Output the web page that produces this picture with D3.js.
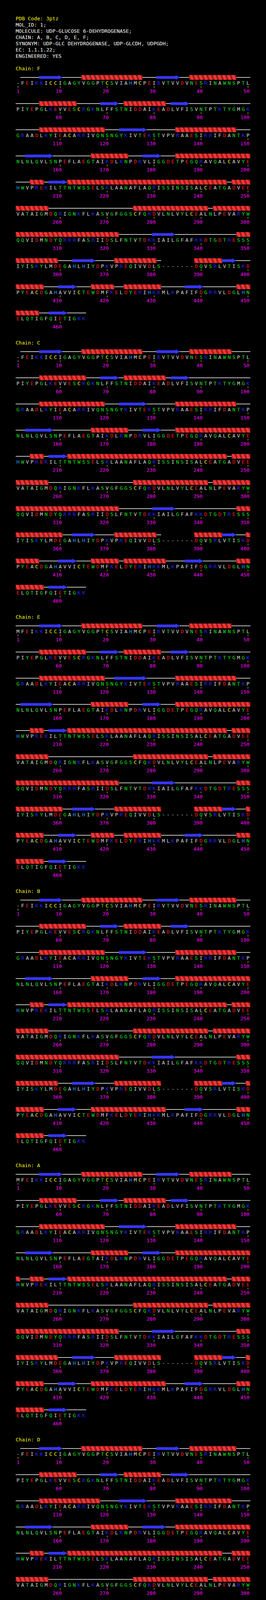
<!DOCTYPE html>
<html>
<head>
<meta charset="utf-8">
<script src="https://cdn.jsdelivr.net/npm/d3@7"></script>
<style>
  body { margin: 0; background: #000; }
  svg { display: block; }
  text { font-family: "DejaVu Sans Mono", monospace; font-size: 13px; }
</style>
</head>
<body>
<script>
let width = 680;
let height = 4388;

// ---- data ----
let pdbCode = "3ptz";
let headerLines = [
  "MOL_ID: 1;",
  "MOLECULE: UDP-GLUCOSE 6-DEHYDROGENASE;",
  "CHAIN: A, B, C, D, E, F;",
  "SYNONYM: UDP-GLC DEHYDROGENASE, UDP-GLCDH, UDPGDH;",
  "EC: 1.1.1.22;",
  "ENGINEERED: YES"
];

let sequenceRows = [
  "MFEIKKICCIGAGYVGGPTCSVIAHMCPEIRVTVVDVNESRINAWNSPTL",
  "PIYEPGLKEVVESCRGKNLFFSTNIDDAIKEADLVFISVNTPTKTYGMGK",
  "GRAADLKYIEACARRIVQNSNGYKIVTEKSTVPVRAAESIRRIFDANTKP",
  "NLNLQVLSNPEFLAEGTAIKDLKNPDRVLIGGDETPEGQRAVQALCAVYE",
  "HWVPREKILTTNTWSSELSKLAANAFLAQRISSINSISALCEATGADVEE",
  "VATAIGMDQRIGNKFLKASVGFGGSCFQKDVLNLVYLCEALNLPEVARYW",
  "QQVIDMNDYQRRRFASRIIDSLFNTVTDKKIAILGFAFKKDTGDTRESSS",
  "IYISKYLMDEGAHLHIYDPKVPREQIVVDLSHPGVSEDDQVSRLVTISKD",
  "PYEACDGAHAVVICTEWDMFKELDYERIHKKMLKPAFIFDGRRVLDGLHN",
  "ELQTIGFQIETIGKK"
];
let lastResidue = 465;

let chainNames = ["F", "C", "E", "B", "A", "D"];

let missingF = [[1, 1], [382, 388]];
let missingC = [[1, 1], [382, 388]];
let missingE = [[382, 388]];
let missingB = [[1, 1], [382, 388]];
let missingA = [[382, 388]];
let missingD = [[1, 1], [382, 388]];

let helixF = [[15, 27], [38, 47], [56, 63], [74, 82], [106, 119], [135, 147], [167, 174], [185, 200],
  [204, 206], [212, 245], [247, 257], [276, 291], [293, 322], [348, 359], [372, 380], [389, 394],
  [401, 406], [417, 421], [424, 431], [448, 455]];
let helixC = [[15, 27], [38, 46], [56, 65], [74, 82], [106, 119], [135, 147], [167, 174], [185, 200],
  [204, 206], [212, 245], [247, 257], [276, 291], [293, 322], [348, 360], [372, 380], [389, 394],
  [400, 405], [417, 422], [424, 432], [448, 456]];
let helixE = [[15, 27], [38, 46], [56, 65], [74, 81], [106, 119], [135, 147], [167, 174], [185, 200],
  [204, 206], [212, 245], [247, 257], [276, 291], [293, 322], [348, 360], [372, 381], [389, 394],
  [400, 406], [417, 421], [424, 431], [448, 456]];
let helixB = [[15, 27], [38, 47], [56, 65], [74, 81], [106, 119], [135, 147], [167, 174], [185, 200],
  [204, 206], [212, 245], [247, 257], [276, 291], [293, 322], [348, 359], [372, 381], [389, 394],
  [400, 406], [417, 432], [448, 456]];
let helixA = [[15, 27], [38, 46], [56, 63], [74, 82], [106, 119], [135, 147], [167, 174], [185, 201],
  [204, 206], [212, 245], [247, 257], [276, 291], [293, 322], [348, 359], [372, 381], [389, 394],
  [400, 406], [417, 432], [448, 456]];
let helixD = [[15, 27], [38, 47], [56, 63], [74, 81], [106, 118], [135, 146], [167, 174], [185, 200],
  [204, 206], [212, 244], [247, 257], [276, 291], [293, 322], [348, 360], [372, 380], [389, 394],
  [400, 405], [417, 432], [448, 456]];

let strandF = [[6, 10], [31, 35], [69, 72], [84, 87], [123, 128], [153, 158], [178, 181], [208, 211],
  [330, 334], [363, 367], [395, 397], [410, 413], [437, 440], [458, 461]];
let strandC = [[6, 10], [31, 35], [69, 72], [84, 87], [123, 128], [153, 158], [178, 181], [208, 211],
  [330, 334], [363, 367], [395, 397], [410, 413], [437, 440], [458, 461]];
let strandE = [[6, 10], [31, 35], [69, 72], [84, 87], [122, 128], [152, 158], [178, 181], [208, 211],
  [330, 334], [363, 367], [395, 397], [410, 413], [437, 440], [458, 461]];
let strandB = [[6, 10], [31, 35], [69, 72], [84, 87], [123, 128], [153, 158], [178, 181], [208, 211],
  [330, 334], [363, 367], [395, 397], [410, 413], [437, 440], [458, 461]];
let strandA = [[6, 10], [31, 35], [69, 72], [84, 87], [123, 128], [153, 158], [178, 181], [208, 211],
  [330, 334], [363, 367], [395, 397], [410, 413], [437, 440], [458, 461]];
let strandD = [[6, 10], [31, 35], [69, 72], [84, 87], [123, 128], [153, 158], [178, 182], [208, 211],
  [330, 334], [363, 367], [395, 397], [410, 413], [436, 440], [457, 461]];

let chains = [
  { name: chainNames[0], missing: missingF, helices: helixF, strands: strandF },
  { name: chainNames[1], missing: missingC, helices: helixC, strands: strandC },
  { name: chainNames[2], missing: missingE, helices: helixE, strands: strandE },
  { name: chainNames[3], missing: missingB, helices: helixB, strands: strandB },
  { name: chainNames[4], missing: missingA, helices: helixA, strands: strandA },
  { name: chainNames[5], missing: missingD, helices: helixD, strands: strandD }
];

// ---- layout ----
let perRow = 50;
let cell = 12;
let helixColor = "#ff3535";
let helixDark = "#9a1c1c";
let strandColor = "#3636ff";

let x = d3.scaleLinear().domain([1, perRow]).range([46, 46 + (perRow - 1) * cell]);
let chainY = d3.scaleLinear().domain([0, 1]).range([198.3, 900.3]);
let rowY = d3.scaleLinear().domain([0, 1]).range([0, 67]);

let svg = d3.select("body").append("svg")
                           .attr("width", width)
                           .attr("height", height);
svg.append("rect").attr("width", width).attr("height", height).attr("fill", "#000");

function rowOf(i) { return Math.floor((i - 1) / perRow); }
function colOf(i) { return (i - 1) % perRow + 1; }

function residueColor(aa) {
  if ("DE".includes(aa)) return "#ff1c1c";
  if ("KR".includes(aa)) return "#2424ff";
  if (aa === "H") return "#1e9bff";
  if ("STNQGYW".includes(aa)) return "#10e810";
  if (aa === "C") return "#ffff00";
  return "#d8d8d8";
}

function isMissing(chain, i) {
  return chain.missing.some(function(m) { return i >= m[0] && i <= m[1]; });
}

// cut a residue range into pieces that each sit on one row
function splitByRow(a, b) {
  let segs = [];
  let s = a;
  while (s <= b) {
    let e = Math.min(b, (rowOf(s) + 1) * perRow);
    segs.push([s, e]);
    s = e + 1;
  }
  return segs;
}

// ---- header ----
svg.append("text").attr("x", 40).attr("y", 52).attr("fill", "#ffff00")
   .text("PDB Code: " + pdbCode);
svg.selectAll("text.header").data(headerLines).enter().append("text")
   .attr("class", "header")
   .attr("x", 40)
   .attr("y", function(d, k) { return 68 + k * 16; })
   .attr("fill", "#ffffff")
   .text(function(d) { return d; });

let nRows = Math.ceil(lastResidue / perRow);
let residues = d3.range(1, lastResidue + 1);

chains.forEach(function(chain, c) {
  let g = svg.append("g");
  let base = chainY(c);
  function ssY(i) { return base + rowY(rowOf(i)); }

  g.append("text").attr("x", 40).attr("y", base - 18).attr("fill", "#ffff00")
   .text("Chain: " + chain.name);

  // coil line over observed runs
  let runs = [];
  d3.range(nRows).forEach(function(r) {
    let start = null;
    let end = Math.min((r + 1) * perRow, lastResidue);
    for (let i = r * perRow + 1; i <= end; i++) {
      if (!isMissing(chain, i)) {
        if (start === null) start = i;
        if (i === end) runs.push([start, i]);
      } else if (start !== null) {
        runs.push([start, i - 1]);
        start = null;
      }
    }
  });
  g.selectAll("line.coil").data(runs).enter().append("line")
   .attr("x1", function(d) { return x(colOf(d[0])) - cell / 2; })
   .attr("x2", function(d) { return x(colOf(d[1])) + cell / 2; })
   .attr("y1", function(d) { return ssY(d[0]); })
   .attr("y2", function(d) { return ssY(d[0]); })
   .attr("stroke", "#ffffff")
   .attr("stroke-width", 1.5);

  // helices: dark band with bright slanted stripes, one per residue
  let helixSegs = [];
  chain.helices.forEach(function(h) { helixSegs = helixSegs.concat(splitByRow(h[0], h[1])); });
  helixSegs.forEach(function(seg) {
    let y0 = ssY(seg[0]);
    let hg = g.append("g");
    hg.append("rect")
      .attr("x", x(colOf(seg[0])) - cell / 2)
      .attr("y", y0 - 6)
      .attr("width", (seg[1] - seg[0] + 1) * cell)
      .attr("height", 12)
      .attr("fill", helixDark);
    hg.selectAll("polygon").data(d3.range(seg[0], seg[1] + 1)).enter().append("polygon")
      .attr("points", function(i) {
        let xl = x(colOf(i)) - cell / 2;
        return [[xl, y0 - 6], [xl + 7, y0 - 6], [xl + 11.5, y0 + 6], [xl + 4.5, y0 + 6]].join(" ");
      })
      .attr("fill", helixColor);
  });

  // strands: arrows
  let strandSegs = [];
  chain.strands.forEach(function(s) { strandSegs = strandSegs.concat(splitByRow(s[0], s[1])); });
  g.selectAll("polygon.strand").data(strandSegs).enter().append("polygon")
   .attr("class", "strand")
   .attr("points", function(d) {
     let y0 = ssY(d[0]);
     let x0 = x(colOf(d[0])) - cell / 2;
     let x1 = x(colOf(d[1])) + cell / 2;
     let hx = x1 - 11;
     return [[x0, y0 - 3.5], [hx, y0 - 3.5], [hx, y0 - 5.7], [x1, y0], [hx, y0 + 5.7],
             [hx, y0 + 3.5], [x0, y0 + 3.5]].join(" ");
   })
   .attr("fill", strandColor);

  // residue letters
  g.selectAll("text.res").data(residues).enter().append("text")
   .attr("class", "res")
   .attr("x", function(i) { return x(colOf(i)); })
   .attr("y", function(i) { return ssY(i) + 19; })
   .attr("text-anchor", "middle")
   .attr("fill", function(i) {
     return isMissing(chain, i) ? "#d8d8d8" : residueColor(sequenceRows[rowOf(i)][colOf(i) - 1]);
   })
   .text(function(i) { return isMissing(chain, i) ? "-" : sequenceRows[rowOf(i)][colOf(i) - 1]; });

  // ticks and numbers
  let marks = residues.filter(function(i) { return i === 1 || i % 10 === 0; });
  g.selectAll("line.tick").data(marks).enter().append("line")
   .attr("x1", function(i) { return x(colOf(i)); })
   .attr("x2", function(i) { return x(colOf(i)); })
   .attr("y1", function(i) { return ssY(i) + 22; })
   .attr("y2", function(i) { return ssY(i) + 26.5; })
   .attr("stroke", "#ffff00")
   .attr("stroke-width", 1);
  g.selectAll("text.num").data(marks).enter().append("text")
   .attr("x", function(i) { return x(colOf(i)) + 4; })
   .attr("y", function(i) { return ssY(i) + 39.5; })
   .attr("text-anchor", "end")
   .attr("fill", "#ff00ff")
   .text(function(i) { return i; });
});
</script>
</body>
</html>
